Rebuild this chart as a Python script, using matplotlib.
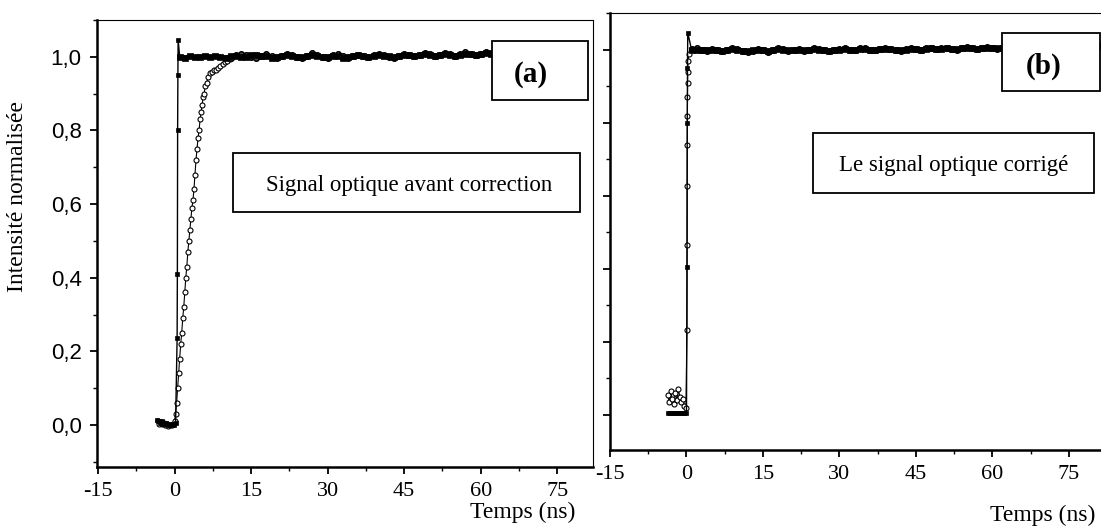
import matplotlib.pyplot as plt
from matplotlib.patches import Rectangle
from matplotlib.ticker import MultipleLocator, FuncFormatter

plt.rcParams['axes.unicode_minus'] = False

W, H = 1101, 529

# ---- panel (a): signal before correction ----
# filled squares (reference pulse)
sq_a_t = [-3.4, -3.1, -2.8, -2.5, -2.2, -1.9, -1.6, -1.3, -1.0, -0.7, -0.4, -0.1, 0.2,
          0.5, 0.55, 0.6, 0.65, 0.7]
sq_a_v = [0.015, 0.010, 0.006, 0.012, 0.004, 0.002, 0.005, 0.000, 0.002, 0.001, 0.003, 0.001, 0.006,
          0.236, 0.41, 0.80, 0.95, 1.046]
sq_a_plat_t = [1, 2, 3, 4, 5, 6, 7, 8, 9, 10, 11, 12, 13, 14, 15, 16, 17, 18, 19, 20,
               21, 22, 23, 24, 25, 26, 27, 28, 29, 30, 31, 32, 33, 34, 35, 36, 37, 38, 39, 40,
               41, 42, 43, 44, 45, 46, 47, 48, 49, 50, 51, 52, 53, 54, 55, 56, 57, 58, 59, 60,
               61, 62]
sq_a_plat_v = [1.000, 0.998, 1.001, 0.999, 1.000, 1.002, 0.999, 1.001, 1.000, 0.998,
               1.001, 1.003, 1.000, 0.999, 1.004, 1.006, 1.003, 1.001, 0.998, 1.000,
               1.002, 1.005, 1.003, 1.000, 0.999, 1.001, 1.004, 1.002, 0.999, 1.000,
               1.003, 1.001, 0.998, 1.000, 1.002, 1.004, 1.001, 0.999, 1.002, 1.005,
               1.003, 1.001, 1.000, 1.003, 1.006, 1.004, 1.002, 1.005, 1.007, 1.004,
               1.002, 1.006, 1.008, 1.005, 1.003, 1.006, 1.009, 1.007, 1.005, 1.008,
               1.010, 1.008]

# open circles (measured optical signal)
ci_a_t = [-3.3, -3.0, -2.7, -2.4, -2.1, -1.8, -1.5, -1.2, -0.9, -0.6, -0.3,
          0.0, 0.2, 0.4, 0.6, 0.8, 1.0, 1.2, 1.4, 1.6, 1.8, 2.0, 2.2, 2.4, 2.6, 2.8,
          3.0, 3.2, 3.4, 3.6, 3.8, 4.0, 4.2, 4.4, 4.6, 4.8, 5.0, 5.2, 5.4, 5.6, 5.8,
          6.0, 6.3, 6.6, 7.0, 7.4, 7.8, 8.2, 8.6, 9.0, 9.4, 9.8, 10.3, 10.8]
ci_a_v = [0.010, 0.004, 0.008, 0.002, 0.006, 0.000, 0.003, -0.002, 0.001, 0.000, 0.002,
          0.010, 0.03, 0.06, 0.10, 0.14, 0.18, 0.22, 0.25, 0.29, 0.32, 0.36, 0.40, 0.43, 0.47, 0.50,
          0.53, 0.56, 0.59, 0.61, 0.64, 0.68, 0.72, 0.75, 0.78, 0.80, 0.83, 0.85, 0.87, 0.89, 0.90,
          0.92, 0.93, 0.945, 0.955, 0.96, 0.963, 0.965, 0.97, 0.975, 0.98, 0.985, 0.99, 0.995]
ci_a_plat_t = [11, 12, 13, 14, 15, 16, 17, 18, 19, 20, 21, 22, 23, 24, 25, 26, 27, 28, 29, 30,
               31, 32, 33, 34, 35, 36, 37, 38, 39, 40, 41, 42, 43, 44, 45, 46, 47, 48, 49, 50,
               51, 52, 53, 54, 55, 56, 57, 58, 59, 60, 61, 62]
ci_a_plat_v = [0.998, 1.004, 1.009, 1.006, 1.000, 0.996, 1.002, 1.007, 1.003, 0.998,
               1.001, 1.008, 1.005, 0.999, 0.996, 1.003, 1.010, 1.006, 1.000, 0.997,
               1.004, 1.008, 1.002, 0.998, 1.001, 1.006, 1.003, 0.999, 1.004, 1.009,
               1.005, 1.000, 0.997, 1.003, 1.008, 1.004, 1.001, 1.006, 1.011, 1.007,
               1.002, 1.005, 1.010, 1.008, 1.003, 1.007, 1.012, 1.009, 1.004, 1.008,
               1.012, 1.010]

# ---- panel (b): corrected signal ----
sq_b_t = [-3.6, -3.2, -2.8, -2.4, -2.0, -1.6, -1.2, -0.8, -0.4, 0.0,
          0.1, 0.15, 0.2, 0.25]
sq_b_v = [0.005, 0.004, 0.006, 0.005, 0.004, 0.006, 0.005, 0.004, 0.005, 0.006,
          0.405, 0.80, 0.95, 1.047]
sq_b_plat_t = [1, 2, 3, 4, 5, 6, 7, 8, 9, 10, 11, 12, 13, 14, 15, 16, 17, 18, 19, 20,
               21, 22, 23, 24, 25, 26, 27, 28, 29, 30, 31, 32, 33, 34, 35, 36, 37, 38, 39, 40,
               41, 42, 43, 44, 45, 46, 47, 48, 49, 50, 51, 52, 53, 54, 55, 56, 57, 58, 59, 60,
               61, 62, 63, 64, 65, 66, 67, 68, 69, 70, 71, 72, 73, 74, 75, 76, 77, 78, 79, 80,
               81, 82]
sq_b_plat_v = [1.000, 0.999, 1.000, 1.001, 0.999, 1.000, 0.998, 1.000, 1.002, 1.001,
               0.998, 0.996, 0.999, 1.001, 1.000, 0.997, 1.000, 1.002, 1.001, 0.999,
               1.000, 1.001, 0.999, 1.000, 1.002, 1.001, 1.000, 0.998, 1.000, 1.001,
               1.002, 1.001, 1.000, 1.002, 1.003, 1.001, 1.000, 1.002, 1.003, 1.002,
               1.001, 0.999, 1.001, 1.003, 1.002, 1.001, 1.003, 1.004, 1.002, 1.003,
               1.004, 1.003, 1.002, 1.004, 1.005, 1.004, 1.003, 1.005, 1.006, 1.005,
               1.004, 1.006, 1.007, 1.006, 1.005, 1.007, 1.008, 1.007, 1.006, 1.008,
               1.009, 1.008, 1.007, 1.009, 1.010, 1.009, 1.008, 1.010, 1.011, 1.010,
               1.011, 1.012]
ci_b_t = [-3.7, -3.4, -3.1, -2.8, -2.5, -2.2, -1.9, -1.6, -1.3, -1.0, -0.7, -0.4, -0.1,
          0.1, 0.12, 0.14, 0.16, 0.18, 0.2, 0.22, 0.24, 0.3, 0.5]
ci_b_v = [0.055, 0.035, 0.065, 0.045, 0.030, 0.060, 0.040, 0.070, 0.050, 0.035, 0.045, 0.025, 0.020,
          0.233, 0.466, 0.627, 0.74, 0.82, 0.87, 0.91, 0.94, 0.97, 0.99]
ci_b_plat_t = sq_b_plat_t
ci_b_plat_v = [1.002, 1.004, 1.001, 0.998, 1.003, 1.000, 0.996, 0.999, 1.004, 1.002,
               0.997, 0.994, 0.998, 1.002, 1.000, 0.995, 0.999, 1.004, 1.003, 0.998,
               1.001, 1.003, 0.998, 1.000, 1.004, 1.002, 0.999, 0.996, 1.000, 1.003,
               1.004, 1.001, 0.999, 1.004, 1.005, 1.001, 0.999, 1.003, 1.005, 1.002,
               1.000, 0.998, 1.002, 1.005, 1.003, 1.000, 1.004, 1.006, 1.002, 1.004,
               1.006, 1.003, 1.001, 1.005, 1.007, 1.004, 1.002, 1.006, 1.008, 1.005,
               1.003, 1.007, 1.009, 1.006, 1.004, 1.008, 1.010, 1.007, 1.005, 1.009,
               1.011, 1.008, 1.006, 1.010, 1.012, 1.009, 1.007, 1.011, 1.012, 1.010,
               1.012, 1.013]

x_ticks = [-15, 0, 15, 30, 45, 60, 75]
y_ticks = [0.0, 0.2, 0.4, 0.6, 0.8, 1.0]

SERIF = 'Liberation Serif'
SANS = 'Liberation Sans'


def px(x, y):
    return x / W, 1 - y / H


def px_rect(x0, y0, x1, y1):
    return [x0 / W, 1 - y1 / H, (x1 - x0) / W, (y1 - y0) / H]


def style_axes(ax):
    ax.set_xticks(x_ticks)
    ax.xaxis.set_minor_locator(MultipleLocator(7.5))
    ax.set_yticks(y_ticks)
    ax.yaxis.set_minor_locator(MultipleLocator(0.1))
    ax.tick_params(which='major', direction='out', length=5, width=1.3, pad=6)
    ax.tick_params(which='minor', direction='out', length=3, width=1.0)
    for lab in ax.get_xticklabels():
        lab.set_fontfamily(SERIF)
        lab.set_fontsize(16)
    ax.spines['left'].set_linewidth(1.8)
    ax.spines['bottom'].set_linewidth(1.8)
    ax.spines['top'].set_linewidth(0.8)
    ax.spines['right'].set_linewidth(0.8)


def draw_series(ax, sq_t, sq_v, sqp_t, sqp_v, ci_t, ci_v, cip_t, cip_v):
    # thin rising part, then the thick plateau band
    ax.plot(sq_t + sqp_t[:1], sq_v + sqp_v[:1], color='black', lw=1.0, marker='s',
            markersize=3.2, markerfacecolor='black', markeredgewidth=0.5, zorder=3)
    ax.plot(sqp_t, sqp_v, color='black', lw=3.2, marker='s',
            markersize=3.8, markerfacecolor='black', markeredgewidth=0.5, zorder=3)
    ax.plot(ci_t + cip_t, ci_v + cip_v, color='black', lw=0.8, marker='o',
            markersize=3.6, markerfacecolor='white', markeredgewidth=0.8, zorder=2)
    ax.plot(cip_t, cip_v, color='black', lw=2.0, marker='o',
            markersize=4.0, markerfacecolor='#444444', markeredgewidth=1.0, zorder=2)


fig = plt.figure(figsize=(W / 100, H / 100), dpi=100)

ax_a = fig.add_axes(px_rect(97, 20, 593, 467))
draw_series(ax_a, sq_a_t, sq_a_v, sq_a_plat_t, sq_a_plat_v,
            ci_a_t, ci_a_v, ci_a_plat_t, ci_a_plat_v)
ax_a.set_xlim(-15.2, 82)
ax_a.set_ylim(-0.114, 1.10)
style_axes(ax_a)
ax_a.yaxis.set_major_formatter(FuncFormatter(lambda v, p: f'{v:.1f}'.replace('.', ',')))
for lab in ax_a.get_yticklabels():
    lab.set_fontfamily(SANS)
    lab.set_fontsize(16)

ax_b = fig.add_axes(px_rect(610, 13, 1101, 450))
draw_series(ax_b, sq_b_t, sq_b_v, sq_b_plat_t, sq_b_plat_v,
            ci_b_t, ci_b_v, ci_b_plat_t, ci_b_plat_v)
ax_b.set_xlim(-15, 81.3)
ax_b.set_ylim(-0.096, 1.101)
style_axes(ax_b)
ax_b.set_yticklabels([])
ax_b.spines['right'].set_visible(False)

# annotation boxes
for box in [(233, 153, 580, 212), (492, 41, 588, 100), (1002, 33, 1100, 91), (813, 133, 1094, 193)]:
    fig.patches.append(Rectangle(px(box[0], box[3]), (box[2] - box[0]) / W, (box[3] - box[1]) / H,
                                 transform=fig.transFigure, fill=True, facecolor='white',
                                 edgecolor='black', lw=1.3, zorder=5))

fig.text(*px(409, 186), 'Signal optique avant correction', family=SERIF, fontsize=16.5,
         ha='center', va='center', zorder=6)
fig.text(*px(954, 166), 'Le signal optique corrigé', family=SERIF, fontsize=16.5,
         ha='center', va='center', zorder=6)
fig.text(*px(531, 75), '(a)', family=SERIF, fontsize=21, fontweight='bold',
         ha='center', va='center', zorder=6)
fig.text(*px(1044, 66), '(b)', family=SERIF, fontsize=21, fontweight='bold',
         ha='center', va='center', zorder=6)

# axis titles
fig.text(*px(18, 196), 'Intensité normalisée', family=SERIF, fontsize=17,
         rotation=90, ha='center', va='center')
fig.text(*px(575, 512), 'Temps (ns)', family=SERIF, fontsize=17, ha='right', va='center')
fig.text(*px(1095, 515), 'Temps (ns)', family=SERIF, fontsize=17, ha='right', va='center')

fig.savefig('out.png', dpi=100)
